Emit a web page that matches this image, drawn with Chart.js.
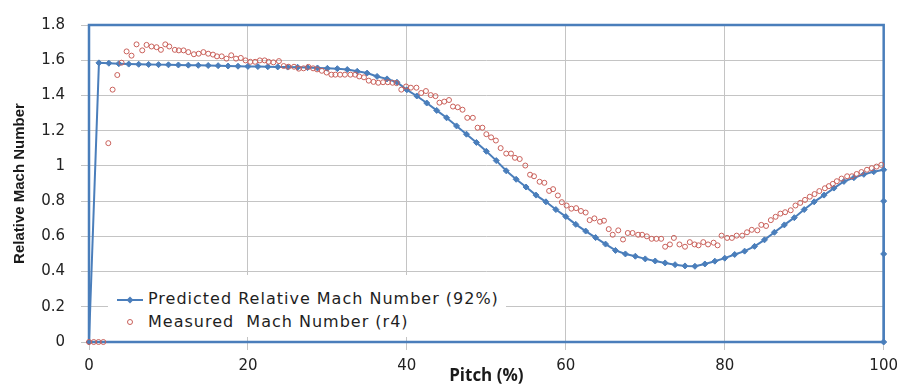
<!DOCTYPE html>
<html>
<head>
<meta charset="utf-8">
<script src="https://cdn.jsdelivr.net/npm/chart.js@4/dist/chart.umd.min.js"></script>
<style>
  html, body { margin: 0; padding: 0; background: #fff; }
  #wrap { position: relative; width: 905px; height: 388px; }
  #legend { position: absolute; left: 108px; top: 275px; width: 398px; height: 62px; background: #fff; }
  #legend .txt { position: absolute; left: 40px; height: 20px; line-height: 20px; white-space: pre;
    font-family: "DejaVu Sans", Verdana, sans-serif; font-size: 16px; letter-spacing: 1px; color: #1e1e1e; }
  #legend svg { position: absolute; left: 0; top: 0; }
</style>
</head>
<body>
<div id="wrap">
  <canvas id="c" width="905" height="388"></canvas>
  <div id="legend">
    <svg width="40" height="62">
      <line x1="9" y1="25" x2="35" y2="25" stroke="#4a7ebb" stroke-width="2"/>
      <polygon points="22,21.5 25.5,25 22,28.5 18.5,25" fill="#4a7ebb"/>
      <circle cx="22" cy="47" r="2.5" fill="none" stroke="#c9605a" stroke-width="1"/>
    </svg>
    <div class="txt" id="lg0" style="top:14px"></div>
    <div class="txt" id="lg1" style="top:37px"></div>
  </div>
</div>
<script>
// ---- data ----
const seriesNames = ["Predicted Relative Mach Number (92%)", "Measured  Mach Number (r4)"];
const xTicks = [0, 20, 40, 60, 80, 100];
const yTicks = [0, 0.2, 0.4, 0.6, 0.8, 1.0, 1.2, 1.4, 1.6, 1.8];

const predictedX = [0,
  1.25, 2.5, 3.75, 5, 6.25, 7.5, 8.75, 10, 11.25, 12.5, 13.75, 15, 16.25, 17.5, 18.75, 20,
  21.25, 22.5, 23.75, 25, 26.25, 27.5, 28.75, 30, 31.25, 32.5, 33.75, 35, 36.25, 37.5, 38.75, 40,
  41.25, 42.5, 43.75, 45, 46.25, 47.5, 48.75, 50, 51.25, 52.5, 53.75, 55, 56.25, 57.5, 58.75, 60,
  61.25, 62.5, 63.75, 65, 66.25, 67.5, 68.75, 70, 71.25, 72.5, 73.75, 75, 76.25, 77.5, 78.75, 80,
  81.25, 82.5, 83.75, 85, 86.25, 87.5, 88.75, 90, 91.25, 92.5, 93.75, 95, 96.25, 97.5, 98.75, 100,
  100, 100, 100];
const predictedY = [0,
  1.585, 1.583, 1.580, 1.578, 1.577, 1.576, 1.575, 1.574, 1.573, 1.572, 1.571, 1.570, 1.569, 1.567, 1.566, 1.565,
  1.564, 1.563, 1.562, 1.561, 1.560, 1.558, 1.556, 1.554, 1.552, 1.547, 1.537, 1.527, 1.508, 1.494, 1.475, 1.432,
  1.397, 1.357, 1.315, 1.273, 1.227, 1.180, 1.133, 1.083, 1.030, 0.972, 0.924, 0.880, 0.834, 0.796, 0.752, 0.712,
  0.668, 0.630, 0.593, 0.556, 0.520, 0.500, 0.487, 0.472, 0.460, 0.449, 0.439, 0.432, 0.430, 0.443, 0.459, 0.476,
  0.497, 0.516, 0.543, 0.580, 0.623, 0.665, 0.706, 0.752, 0.796, 0.834, 0.874, 0.912, 0.933, 0.952, 0.967, 0.978,
  0.8, 0.5, 0];

const measuredX = [0, 0.6, 1.2, 1.8,
  2.43, 2.97, 3.56, 4.1, 4.73, 5.35, 5.98, 6.7, 7.24, 7.87, 8.5, 9.05, 9.6, 10.1, 10.8, 11.3,
  11.9, 12.5, 13.2, 13.8, 14.4, 15.0, 15.6, 16.1, 16.7, 17.3, 17.9, 18.5, 19.1, 19.7, 20.3, 20.9,
  21.5, 22.1, 22.6, 23.2, 23.9, 24.5, 25.1, 25.8, 26.4, 27.0, 27.6, 28.2, 28.7, 29.3, 29.9, 30.5,
  31.0, 31.6, 32.2, 32.9, 33.5, 34.0, 34.6, 35.2, 35.8, 36.4, 37.0, 37.6, 38.2, 38.7, 39.3, 39.9,
  40.5, 41.2, 41.8, 42.4, 43.0, 43.6, 44.1, 44.7, 45.3, 45.8, 46.4, 47.0, 47.6, 48.3, 48.9, 49.5,
  50.0, 50.6, 51.2, 51.8, 52.5, 53.1, 53.6, 54.2, 54.9, 55.5, 56.0, 56.7, 57.3, 57.9, 58.4, 59.0,
  59.5, 60.1, 60.7, 61.3, 61.9, 62.5, 63.0, 63.6, 64.3, 64.8, 65.4, 65.9, 66.6, 67.2, 67.8, 68.4,
  69.1, 69.6, 70.2, 70.8, 71.4, 72.0, 72.5, 73.1, 73.6, 74.3, 75.0, 75.6, 76.2, 76.7, 77.3, 77.9,
  78.6, 79.1, 79.6, 80.3, 80.9, 81.5, 82.2, 82.8, 83.4, 84.1, 84.6, 85.2, 85.8, 86.4, 87.0, 87.6,
  88.3, 88.9, 89.5, 90.1, 90.7, 91.3, 91.9, 92.6, 93.1, 93.6, 94.1, 94.7, 95.4, 96.0, 96.6, 97.2,
  97.9, 98.5, 99.1, 99.7];
const measuredY = [0, 0, 0, 0,
  1.129, 1.433, 1.516, 1.586, 1.650, 1.626, 1.690, 1.656, 1.687, 1.678, 1.674, 1.659, 1.690, 1.678, 1.659, 1.656,
  1.656, 1.646, 1.634, 1.637, 1.646, 1.637, 1.632, 1.622, 1.622, 1.609, 1.628, 1.609, 1.613, 1.599, 1.591, 1.591,
  1.599, 1.599, 1.591, 1.588, 1.595, 1.567, 1.563, 1.563, 1.552, 1.554, 1.562, 1.554, 1.548, 1.540, 1.530, 1.518,
  1.518, 1.518, 1.518, 1.518, 1.518, 1.508, 1.503, 1.484, 1.477, 1.472, 1.475, 1.475, 1.472, 1.470, 1.433, 1.451,
  1.444, 1.444, 1.414, 1.425, 1.402, 1.396, 1.359, 1.365, 1.374, 1.337, 1.333, 1.319, 1.273, 1.273, 1.217, 1.217,
  1.180, 1.162, 1.144, 1.101, 1.070, 1.070, 1.046, 1.039, 1.002, 0.950, 0.941, 0.910, 0.904, 0.858, 0.868, 0.832,
  0.794, 0.775, 0.757, 0.760, 0.744, 0.735, 0.692, 0.702, 0.683, 0.689, 0.641, 0.609, 0.634, 0.582, 0.619, 0.619,
  0.609, 0.609, 0.600, 0.586, 0.586, 0.586, 0.541, 0.554, 0.591, 0.554, 0.541, 0.567, 0.554, 0.549, 0.567, 0.554,
  0.564, 0.549, 0.604, 0.591, 0.591, 0.604, 0.604, 0.623, 0.637, 0.634, 0.665, 0.659, 0.692, 0.711, 0.729, 0.737,
  0.748, 0.775, 0.790, 0.807, 0.825, 0.840, 0.857, 0.873, 0.885, 0.898, 0.913, 0.928, 0.941, 0.941, 0.954, 0.965,
  0.978, 0.987, 0.996, 1.006];

// ---- chart ----
const BLUE = '#4a7ebb';
const RED = '#c9605a';
const GRID = '#c4c4c4';

document.getElementById('lg0').textContent = seriesNames[0];
document.getElementById('lg1').textContent = seriesNames[1];

const framePlugin = {
  id: 'frame',
  beforeDatasetsDraw(chart) {
    const a = chart.chartArea, ctx = chart.ctx;
    ctx.save();
    ctx.strokeStyle = BLUE;
    ctx.lineWidth = 2.5;
    ctx.strokeRect(a.left, a.top, a.right - a.left, a.bottom - a.top);
    ctx.restore();
  }
};

new Chart(document.getElementById('c'), {
  type: 'scatter',
  data: {
    datasets: [
      {
        label: seriesNames[0],
        data: predictedX.map((x, i) => ({x: x, y: predictedY[i]})),
        showLine: true,
        borderColor: BLUE,
        backgroundColor: BLUE,
        borderWidth: 2,
        pointStyle: 'rectRot',
        pointRadius: 3,
        pointBorderWidth: 1,
        tension: 0,
        clip: false,
        order: 1
      },
      {
        label: seriesNames[1],
        data: measuredX.map((x, i) => ({x: x, y: measuredY[i]})),
        showLine: false,
        borderColor: RED,
        backgroundColor: 'rgba(0,0,0,0)',
        pointStyle: 'circle',
        pointRadius: 2.5,
        pointBorderWidth: 1,
        clip: false,
        order: 0
      }
    ]
  },
  options: {
    responsive: false,
    animation: false,
    devicePixelRatio: 1,
    layout: { padding: { left: 0, top: 16, right: 20, bottom: 0 } },
    plugins: { legend: { display: false }, tooltip: { enabled: false } },
    scales: {
      x: {
        type: 'linear',
        min: 0, max: 100,
        afterBuildTicks: s => { s.ticks = xTicks.map(v => ({value: v})); },
        afterFit: s => { s.height = 46; },
        grid: { color: GRID, lineWidth: 1, drawTicks: true, tickLength: 8, tickColor: GRID },
        border: { display: false },
        ticks: { padding: 7, color: '#222', maxRotation: 0, autoSkip: false,
          font: { family: "'DejaVu Sans', Verdana, sans-serif", size: 15 },
          callback: v => String(v) },
        title: { display: true, text: 'Pitch (%)', color: '#1a1a1a',
          font: { family: "'Open Sans', sans-serif", size: 17, weight: 'bold' },
          padding: { top: 0, bottom: 2 } }
      },
      y: {
        type: 'linear',
        min: 0, max: 1.8,
        afterBuildTicks: s => { s.ticks = yTicks.map(v => ({value: v})); },
        afterFit: s => { s.width = 89; },
        grid: { color: GRID, lineWidth: 1, drawTicks: true, tickLength: 8, tickColor: GRID },
        border: { display: false },
        ticks: { padding: 16, color: '#222', autoSkip: false,
          font: { family: "'DejaVu Sans', Verdana, sans-serif", size: 15 },
          callback: v => String(Number(Number(v).toFixed(1))) },
        title: { display: true, text: 'Relative Mach Number', color: '#1a1a1a',
          font: { family: "'Liberation Sans Narrow', 'Liberation Sans', sans-serif", size: 15, weight: 'bold' },
          padding: { top: 11, bottom: 0 } }
      }
    }
  },
  plugins: [framePlugin]
});
</script>
</body>
</html>
